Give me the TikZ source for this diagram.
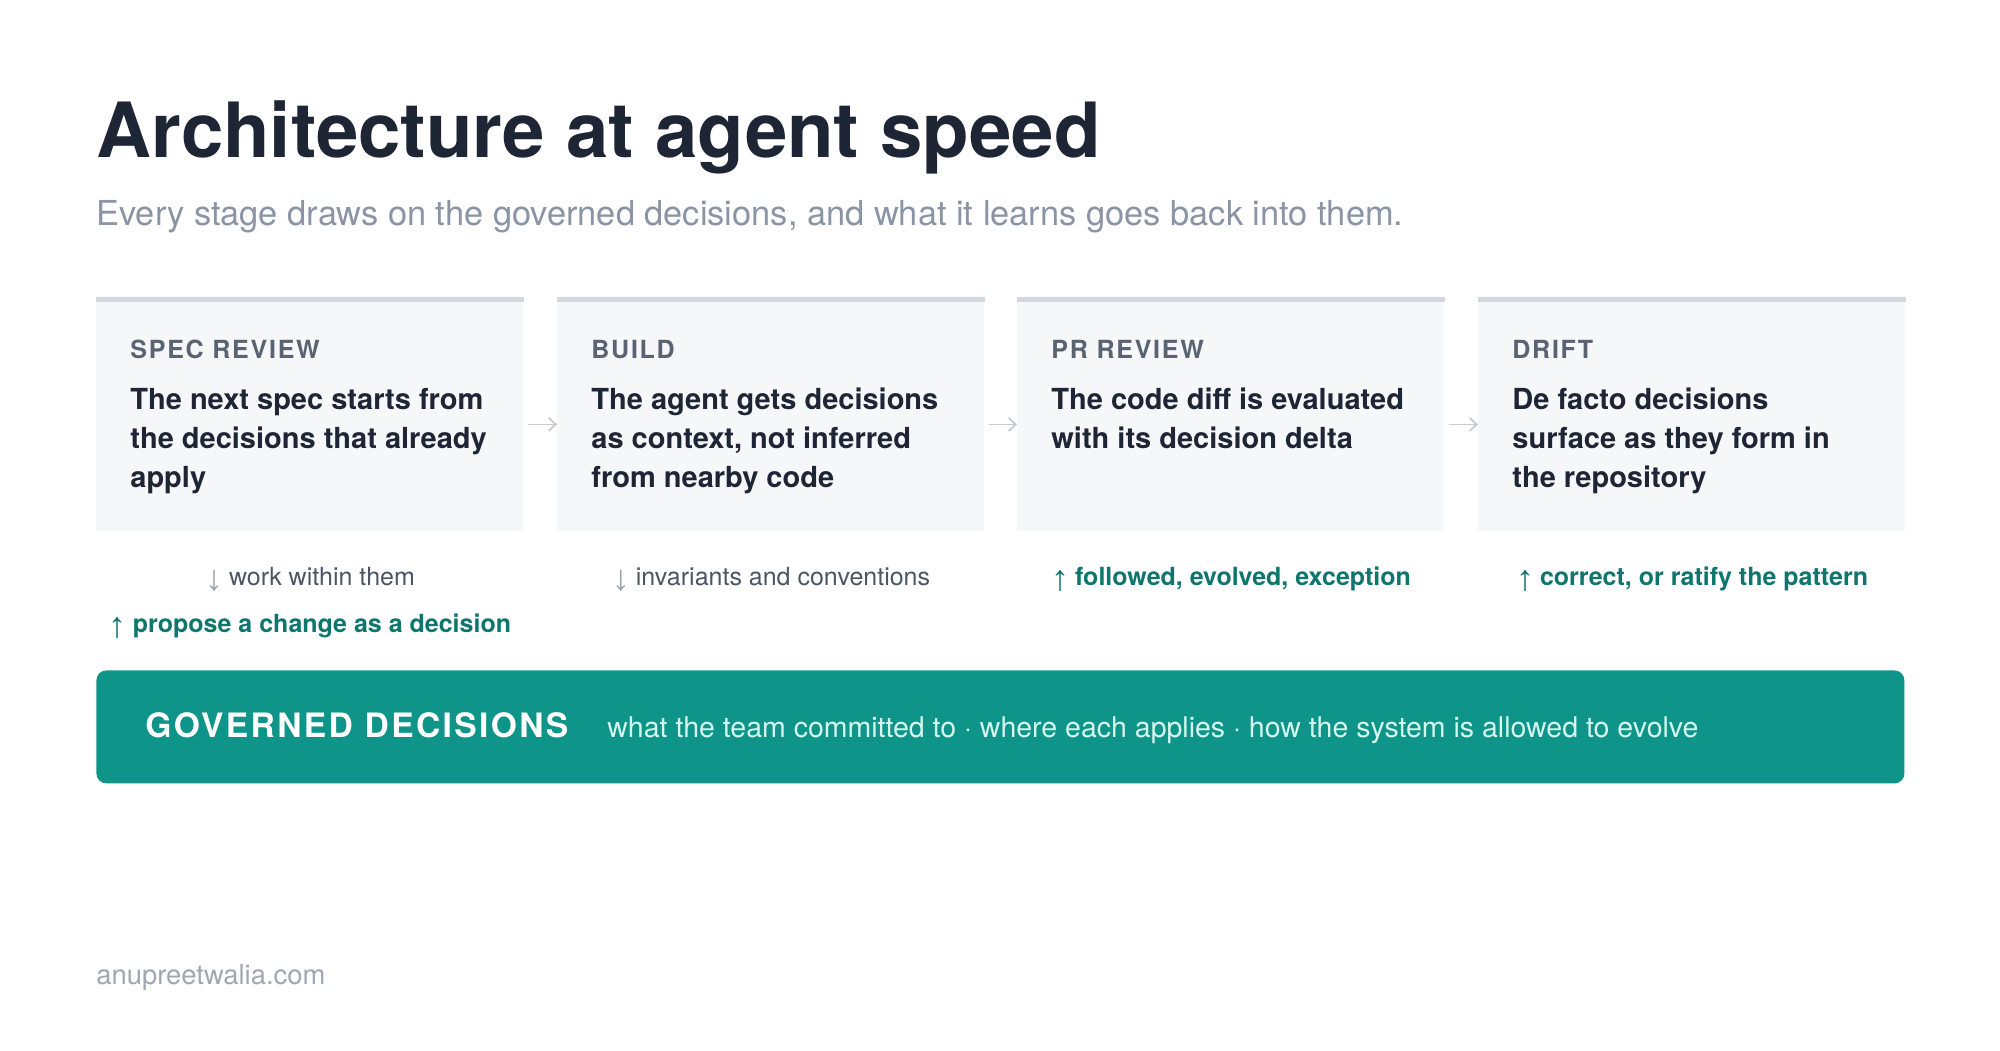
\documentclass[tikz,border=0pt]{standalone}
\usepackage{fontspec}
\setmainfont{TeX Gyre Heros}
\newfontfamily\arrowfont{Liberation Sans}
\usetikzlibrary{calc, positioning, arrows.meta}

\definecolor{TitleInk}{HTML}{1E2535}
\definecolor{SubInk}{HTML}{8B94A5}
\definecolor{TagInk}{HTML}{5A6372}
\definecolor{BoxFill}{HTML}{F6F7F9}
\definecolor{BoxTop}{HTML}{D3D7DD}
\definecolor{DownInk}{HTML}{4B5563}
\definecolor{DownTip}{HTML}{9CA3AF}
\definecolor{UpInk}{HTML}{0F766E}
\definecolor{GovFill}{HTML}{0E9488}
\definecolor{GovSub}{HTML}{D5F7EE}
\definecolor{FootInk}{HTML}{A0A6B2}
\definecolor{FlowInk}{HTML}{C5CAD3}

\tikzset{
    stagebox/.style={rectangle, fill=BoxFill, inner sep=0pt, anchor=north west,
        minimum width=213.5pt, minimum height=117pt},
    stagetag/.style={anchor=base west, inner sep=0pt, text=TagInk,
        font=\fontsize{12.5}{15}\selectfont\bfseries\addfontfeature{LetterSpace=7}},
    stagetext/.style={anchor=base west, inner sep=0pt, align=left, text=TitleInk,
        font=\fontsize{14.5}{19.5}\selectfont\bfseries},
    downnote/.style={anchor=base, inner sep=0pt, text=DownInk,
        font=\fontsize{12.5}{15}\selectfont},
    upnote/.style={anchor=base, inner sep=0pt, text=UpInk,
        font=\fontsize{12.5}{15}\selectfont\bfseries},
    flowline/.style={draw=FlowInk, line width=0.9pt,
        -{Straight Barb[length=3.5pt, width=6.5pt]}}
}
\newcommand{\downtip}{\raisebox{-2.5pt}{\arrowfont\fontsize{18}{18}\selectfont\color{DownTip}↓}\hspace{3pt}}
\newcommand{\uptip}{\raisebox{-2.5pt}{\arrowfont\fontsize{18}{18}\selectfont\color{UpInk}↑}\hspace{3pt}}

\begin{document}
\begin{tikzpicture}[x=0.5pt, y=-0.5pt]
            % 四個階段方塊放在上排，共同的決策條放在下方
            \fill[white] (0,0) rectangle (2000,1050);
            \useasboundingbox (0,0) rectangle (2000,1050);

            \node[anchor=base west, inner sep=0pt, text=TitleInk,
                font=\fontsize{38.1}{46}\selectfont\bfseries] (Title) at (96,157) {Architecture at agent speed};
            \node[anchor=base west, inner sep=0pt, text=SubInk,
                font=\fontsize{17.2}{20}\selectfont] (SubTitle) at (96,225) {Every stage draws on the governed decisions, and what it learns goes back into them.};

            \node[stagebox] (SpecBox) at (96,297) {};
            \node[stagebox] (BuildBox) at (557,297) {};
            \node[stagebox] (ReviewBox) at (1017,297) {};
            \node[stagebox] (DriftBox) at (1478,297) {};

            \fill[BoxTop] (SpecBox.north west) rectangle ([yshift=-2.5pt]SpecBox.north east);
            \fill[BoxTop] (BuildBox.north west) rectangle ([yshift=-2.5pt]BuildBox.north east);
            \fill[BoxTop] (ReviewBox.north west) rectangle ([yshift=-2.5pt]ReviewBox.north east);
            \fill[BoxTop] (DriftBox.north west) rectangle ([yshift=-2.5pt]DriftBox.north east);

            % 多行文字的 base 在最後一行
            \node[stagetag] (SpecTag) at (130,358) {SPEC REVIEW};
            \node[stagetext] (SpecText) at (130,487) {The next spec starts from\\the decisions that already\\apply};
            \node[stagetag] (BuildTag) at (591,358) {BUILD};
            \node[stagetext] (BuildText) at (591,487) {The agent gets decisions\\as context, not inferred\\from nearby code};
            \node[stagetag] (ReviewTag) at (1051,358) {PR REVIEW};
            \node[stagetext] (ReviewText) at (1051,448) {The code diff is evaluated\\with its decision delta};
            \node[stagetag] (DriftTag) at (1512,358) {DRIFT};
            \node[stagetext] (DriftText) at (1512,487) {De facto decisions\\surface as they form in\\the repository};

            \draw[flowline, shorten <=2pt] ([yshift=-5pt]SpecBox.east) -- ([yshift=-5pt]BuildBox.west);
            \draw[flowline, shorten <=2pt] ([yshift=-5pt]BuildBox.east) -- ([yshift=-5pt]ReviewBox.west);
            \draw[flowline, shorten <=2pt] ([yshift=-5pt]ReviewBox.east) -- ([yshift=-5pt]DriftBox.west);

            \node[downnote] (SpecDown) at (310,585) {\downtip work within them};
            \node[upnote] (SpecUp) at (310,632) {\uptip propose a change as a decision};
            \node[downnote] (BuildDown) at (771,585) {\downtip invariants and conventions};
            \node[upnote] (ReviewUp) at (1231,585) {\uptip followed, evolved, exception};
            \node[upnote] (DriftUp) at (1692,585) {\uptip correct, or ratify the pattern};

            \node[rectangle, rounded corners=5pt, fill=GovFill, anchor=north west,
                minimum width=904pt, minimum height=56.5pt] (GovBar) at (96,670) {};
            \node[anchor=base west, inner sep=0pt, text=white,
                font=\fontsize{16.8}{20}\selectfont\bfseries\addfontfeature{LetterSpace=7}] (GovTag) at (145,737) {GOVERNED DECISIONS};
            \node[anchor=base west, inner sep=0pt, text=GovSub,
                font=\fontsize{14.25}{17}\selectfont] (GovText) at (607,737) {what the team committed to · where each applies · how the system is allowed to evolve};

            \node[anchor=base west, inner sep=0pt, text=FootInk,
                font=\fontsize{13.7}{16}\selectfont] (Footer) at (96,984) {anupreetwalia.com};
\end{tikzpicture}
\end{document}
